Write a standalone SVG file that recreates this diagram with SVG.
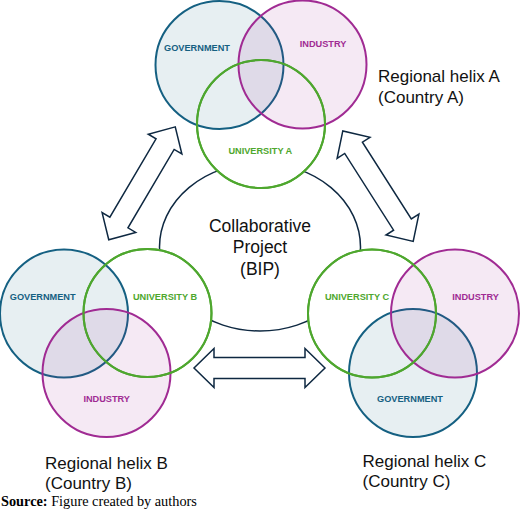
<svg xmlns="http://www.w3.org/2000/svg" width="520" height="520" viewBox="0 0 520 520">
<style>
.uni{fill:#ffffff;stroke:#4EA72E;stroke-width:2}
.gov{fill:#156082;fill-opacity:0.1;stroke:#156082;stroke-width:2}
.ind{fill:#A02B93;fill-opacity:0.1;stroke:#A02B93;stroke-width:2}
.arrow{fill:#ffffff;stroke:#0E2841;stroke-width:1.5;stroke-linejoin:miter}
.lbl{font-family:"Liberation Sans",Arial,sans-serif;font-weight:bold;font-size:9.2px;text-anchor:middle}
.lg{fill:#156082}.li{fill:#A02B93}.lu{fill:#4EA72E}
.big{font-family:"Liberation Sans",Arial,sans-serif;font-size:17px;fill:#111111}
.ctr{font-family:"Liberation Sans",Arial,sans-serif;font-size:17.5px;fill:#111111;text-anchor:middle}
.src{font-family:"Liberation Serif","Times New Roman",serif;font-size:14.3px;fill:#000000}
</style>
<defs>
<path id="dblArrow" d="M65.5,0 L45.5,-19.5 L45.5,-10.5 L-45.5,-10.5 L-45.5,-19.5 L-65.5,0 L-45.5,19.5 L-45.5,10.5 L45.5,10.5 L45.5,19.5 Z"/>
</defs>

<g id="project">
<ellipse cx="260" cy="247" rx="100.5" ry="84" fill="none" stroke="#0E2841" stroke-width="1.5"/>
<text class="ctr" x="260" y="231.5">Collaborative</text>
<text class="ctr" x="260" y="253">Project</text>
<text class="ctr" x="260" y="274.5">(BIP)</text>
</g>

<g id="connectors">
<use href="#dblArrow" class="arrow" transform="translate(142 183.3) rotate(-59.5)"/>
<use href="#dblArrow" class="arrow" transform="translate(378 186.2) rotate(57.5)"/>
<use href="#dblArrow" class="arrow" transform="translate(259.5 368)"/>
</g>

<g id="helixA">
<g id="universityA"><circle class="uni" cx="261" cy="124" r="64"/></g>
<g id="governmentA"><circle class="gov" cx="219.5" cy="65" r="64"/></g>
<g id="industryA"><circle class="ind" cx="302.5" cy="64.5" r="64"/></g>
<circle cx="261" cy="124" r="64" fill="none" stroke="#4EA72E" stroke-width="2"/>
<text class="lbl lg" x="197" y="50.5">GOVERNMENT</text>
<text class="lbl li" x="323" y="47.3">INDUSTRY</text>
<text class="lbl lu" x="260.3" y="154">UNIVERSITY A</text>
<text class="big" x="378" y="82">Regional helix A</text>
<text class="big" x="378" y="102.5">(Country A)</text>
</g>

<g id="helixB">
<g id="universityB"><circle class="uni" cx="147.5" cy="313" r="64"/></g>
<g id="governmentB"><circle class="gov" cx="64" cy="313.5" r="64"/></g>
<g id="industryB"><circle class="ind" cx="106.5" cy="373" r="64"/></g>
<circle cx="147.5" cy="313" r="64" fill="none" stroke="#4EA72E" stroke-width="2"/>
<text class="lbl lg" x="42.7" y="300">GOVERNMENT</text>
<text class="lbl lu" x="165" y="300">UNIVERSITY B</text>
<text class="lbl li" x="106.7" y="401.7">INDUSTRY</text>
<text class="big" x="45" y="469">Regional helix B</text>
<text class="big" x="45" y="488.5">(Country B)</text>
</g>

<g id="helixC">
<g id="universityC"><circle class="uni" cx="372" cy="313.5" r="64"/></g>
<g id="governmentC"><circle class="gov" cx="413" cy="373" r="64"/></g>
<g id="industryC"><circle class="ind" cx="455" cy="313.5" r="64"/></g>
<circle cx="372" cy="313.5" r="64" fill="none" stroke="#4EA72E" stroke-width="2"/>
<text class="lbl lu" x="357" y="300">UNIVERSITY C</text>
<text class="lbl li" x="475.5" y="300">INDUSTRY</text>
<text class="lbl lg" x="410" y="401.7">GOVERNMENT</text>
<text class="big" x="362.5" y="466.5">Regional helix C</text>
<text class="big" x="362.5" y="487">(Country C)</text>
</g>

<text class="src" x="1" y="506"><tspan font-weight="bold">Source:</tspan> Figure created by authors</text>
</svg>
